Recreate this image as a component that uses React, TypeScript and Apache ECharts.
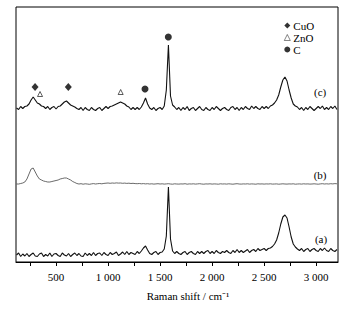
import React, { useEffect, useRef } from "react";
import * as echarts from "echarts";

// Raman shift sampling (cm^-1)
const WAVENUMBER = [
  120, 140, 160, 180, 200, 220, 240, 260, 280, 300,
  320, 340, 360, 380, 400, 420, 440, 460, 480, 500,
  520, 540, 560, 580, 600, 620, 640, 660, 680, 700,
  720, 740, 760, 780, 800, 820, 840, 860, 880, 900,
  920, 940, 960, 980, 1000, 1020, 1040, 1060, 1080, 1100,
  1120, 1140, 1160, 1180, 1200, 1220, 1240, 1260, 1280, 1300,
  1320, 1340, 1360, 1380, 1400, 1420, 1440, 1460, 1480, 1500,
  1520, 1540, 1560, 1580, 1600, 1620, 1640, 1660, 1680, 1700,
  1720, 1740, 1760, 1780, 1800, 1820, 1840, 1860, 1880, 1900,
  1920, 1940, 1960, 1980, 2000, 2020, 2040, 2060, 2080, 2100,
  2120, 2140, 2160, 2180, 2200, 2220, 2240, 2260, 2280, 2300,
  2320, 2340, 2360, 2380, 2400, 2420, 2440, 2460, 2480, 2500,
  2520, 2540, 2560, 2580, 2600, 2620, 2640, 2660, 2680, 2700,
  2720, 2740, 2760, 2780, 2800, 2820, 2840, 2860, 2880, 2900,
  2920, 2940, 2960, 2980, 3000, 3020, 3040, 3060, 3080, 3100,
  3120, 3140, 3160, 3180, 3200,
];

// Intensities (arbitrary units, vertically offset traces)
const SPECTRUM_A = [
  7, 9, 5.5, 8, 6, 8.5, 5.5, 7.5, 9, 6,
  5.5, 8, 9, 5.5, 7.5, 6, 9, 5.5, 8, 8.5,
  6.5, 5.5, 9, 7, 6, 8.5, 5.5, 7.5, 9, 6.5,
  8.5, 6, 5.5, 9, 6.5, 8.5, 6.5, 9.5, 6.5, 8.5,
  9, 6.5, 9.5, 7.5, 6.5, 9.5, 7.5, 8.5, 10, 6.5,
  8, 10, 7.5, 10.5, 7.5, 9.5, 8.5, 7.5, 10.5, 8.5,
  11, 14, 16, 12, 8.5, 7.5, 9.5, 10.5, 7.5, 9.5,
  10, 13, 26, 75, 23, 11, 8.5, 10.5, 8.5, 7.5,
  9.5, 10.5, 7.5, 9.5, 10.5, 8.5, 7.5, 10.5, 8.5, 10.5,
  8.5, 10.5, 11.5, 8.5, 10.5, 8.5, 11.5, 9.5, 8.5, 10.5,
  9.5, 11.5, 9.5, 8.5, 11.5, 9.5, 12.5, 9.5, 11.5, 9.5,
  11, 12.5, 9.5, 11.5, 12.5, 10.5, 13.5, 11.5, 12.5, 13.5,
  11.5, 13.5, 14, 15.5, 18, 22, 29, 38, 45, 47,
  44, 35, 25, 18, 15, 13, 11.5, 13.5, 10.5, 12.5,
  13.5, 10.5, 12.5, 13.5, 11.5, 10.5, 13.5, 11.5, 14, 11.5,
  10.5, 13.5, 11.5, 10.5, 12.5,
];

const SPECTRUM_B = [
  78, 78, 78.5, 79, 80, 83, 88, 93, 94, 90,
  86, 83, 82, 81, 80.5, 80, 80, 80.5, 81, 81.5,
  82, 83, 83.5, 84, 84, 83, 82, 80.5, 79.5, 78.5,
  78, 78.3, 77.8, 78.2, 78, 77.7, 78.1, 78.4, 78, 78.3,
  78.5, 78.2, 78.6, 78.8, 79, 78.7, 79, 78.8, 79.1, 78.9,
  79, 78.7, 78.9, 78.6, 78.8, 78.5, 78.7, 78.4, 78.3, 78.5,
  78.2, 78.4, 78.1, 78.3, 78, 78.2, 77.9, 78.1, 78.3, 78,
  78.2, 77.9, 78.1, 78.3, 78, 77.8, 78.2, 78, 77.9, 78.1,
  78, 78.3, 77.8, 78.1, 78, 78.2, 77.9, 78.1, 78.3, 78,
  77.8, 78.1, 78, 78.2, 77.9, 78.1, 78, 77.8, 78.2, 78,
  78.1, 77.9, 78.2, 78, 77.8, 78.1, 78.3, 78, 77.9, 78.1,
  78, 78.2, 77.9, 78.1, 78, 77.8, 78.2, 78, 78.1, 77.9,
  78.1, 78, 78.2, 77.9, 78, 78.1, 77.8, 78, 78.2, 78,
  77.9, 78.1, 78, 78.2, 77.8, 78, 78.1, 77.9, 78.2, 78,
  78.1, 77.9, 78, 78.2, 78, 77.8, 78.1, 78.3, 78, 78.2,
  78, 78.3, 78.1, 78.4, 78.2,
];

const SPECTRUM_C = [
  154, 152.5, 155.5, 153.5, 155.5, 156, 158, 162, 165, 162,
  159, 158, 156, 155.5, 153.5, 155.5, 152.5, 154.5, 155.5, 153,
  155.5, 156, 158, 160, 161, 159, 157, 156, 155, 153.5,
  152.5, 154.5, 151.5, 154.5, 152.5, 151.5, 154.5, 152.5, 151.5, 153.5,
  154.5, 151.5, 153.5, 155.5, 153.5, 155.5, 156, 157, 158, 159,
  160, 159, 158, 156, 155, 152.5, 154.5, 152.5, 154.5, 152.5,
  155, 159, 164, 158, 154, 152.5, 154.5, 151.5, 153.5, 154.5,
  152.5, 156, 172, 217, 166, 157, 155, 152.5, 154.5, 151.5,
  154.5, 152.5, 155.5, 151.5, 153.5, 154.5, 151.5, 153.5, 155.5, 152.5,
  151.5, 154.5, 152.5, 151.5, 154.5, 152.5, 155.5, 153.5, 151.5, 153.5,
  154.5, 152.5, 151.5, 154.5, 155.5, 152.5, 154.5, 151.5, 154.5, 152.5,
  155.5, 153.5, 152.5, 156, 153.5, 155.5, 153.5, 152.5, 155.5, 153.5,
  155.5, 153.5, 156, 157, 159, 162, 167, 175, 182, 185,
  181, 172, 164, 158, 156, 155, 152.5, 154.5, 151.5, 154.5,
  152.5, 155.5, 153.5, 151.5, 153.5, 155.5, 153.5, 156, 152.5, 154.5,
  152.5, 155.5, 153.5, 156, 152.5,
];

// Peak assignment markers [shift, height]
const CUO_MARKS = [[298, 175], [618, 175]];
const ZNO_MARKS = [[346, 168], [1121, 170]];
const C_MARKS = [[1355, 173], [1579, 225]];

// Trace labels [shift, height]
const TRACE_NAMES = ["(a)", "(b)", "(c)"];
const TRACE_LABEL_POS = [[3047, 23], [3038, 87], [3038, 170]];

const X_TICKS = [250, 500, 750, 1000, 1250, 1500, 1750, 2000, 2250, 2500, 2750, 3000];
const X_LABELS = [500, 1000, 1500, 2000, 2500, 3000];

const FONT = "'Liberation Serif', 'Times New Roman', serif";

function zip(xs: number[], ys: number[]) {
  return xs.map((x, i) => [x, ys[i]]);
}

function fmt(v: number) {
  if (v >= 1000) {
    return `${Math.floor(v / 1000)} ${String(v % 1000).padStart(3, "0")}`;
  }
  return String(v);
}

export default function App() {
  const ref = useRef<HTMLDivElement>(null);
  useEffect(() => {
    if (!ref.current) return;
    const chart = echarts.init(ref.current, null, { renderer: "svg" });
    const lineCommon = {
      type: "line",
      showSymbol: false,
      symbol: "none",
      silent: true,
    };
    const titleGraphic = {
      type: "text",
      x: 188,
      y: 296,
      style: {
        text: "Raman shift / cm\u207B\u00B9",
        fontFamily: FONT,
        fontSize: 11,
        fill: "#000",
        textAlign: "center",
        textVerticalAlign: "middle",
      },
    };
    chart.setOption({
      animation: false,
      backgroundColor: "#fff",
      grid: {
        left: 16,
        right: 15,
        top: 7,
        bottom: 50,
        show: true,
        borderColor: "#000",
        borderWidth: 1,
        backgroundColor: "transparent",
      },
      legend: {
        orient: "vertical",
        left: 279,
        top: 15,
        itemWidth: 6,
        itemHeight: 6,
        itemGap: 1,
        textStyle: {
          fontFamily: FONT,
          fontSize: 11,
          color: "#000",
          padding: [0, 0, 0, -2],
        },
        data: [
          "CuO",
          { name: "ZnO", itemStyle: { borderWidth: 0.6 } },
          "C",
        ],
      },
      xAxis: {
        type: "value",
        min: 115,
        max: 3210,
        splitLine: { show: false },
        axisLine: { show: true, lineStyle: { color: "#000", width: 1 } },
        axisTick: {
          show: true,
          inside: false,
          length: 4,
          customValues: X_TICKS,
          lineStyle: { color: "#000" },
        },
        axisLabel: {
          customValues: X_LABELS,
          formatter: (v: number) => fmt(v),
          fontFamily: FONT,
          fontSize: 11,
          color: "#000",
          margin: 9,
        },
      },
      yAxis: {
        type: "value",
        min: 0,
        max: 255,
        show: false,
      },
      graphic: [titleGraphic],
      series: [
        {
          ...lineCommon,
          name: "a",
          data: zip(WAVENUMBER, SPECTRUM_A),
          lineStyle: { color: "#111", width: 1.1 },
        },
        {
          ...lineCommon,
          name: "b",
          data: zip(WAVENUMBER, SPECTRUM_B),
          lineStyle: { color: "#444", width: 0.8 },
        },
        {
          ...lineCommon,
          name: "c",
          data: zip(WAVENUMBER, SPECTRUM_C),
          lineStyle: { color: "#111", width: 1.1 },
        },
        {
          type: "scatter",
          name: "CuO",
          symbol: "diamond",
          symbolSize: [7, 8],
          itemStyle: { color: "#000" },
          data: CUO_MARKS,
        },
        {
          type: "scatter",
          name: "ZnO",
          symbol: "triangle",
          symbolSize: 5,
          itemStyle: { color: "#fff", borderColor: "#000", borderWidth: 0.8 },
          data: ZNO_MARKS,
        },
        {
          type: "scatter",
          name: "C",
          symbol: "circle",
          symbolSize: 7,
          itemStyle: { color: "#000" },
          data: C_MARKS,
        },
      ],
    });
    // Trace labels placed at data coordinates through the chart's own scales
    const labelGraphics = TRACE_LABEL_POS.map((p, i) => {
      const px = chart.convertToPixel({ gridIndex: 0 }, p) as number[];
      return {
        type: "text",
        x: px[0],
        y: px[1],
        style: {
          text: TRACE_NAMES[i],
          fontFamily: FONT,
          fontSize: 11,
          fill: "#000",
          textAlign: "center",
          textVerticalAlign: "middle",
        },
      };
    });
    chart.setOption({ graphic: [titleGraphic, ...labelGraphics] }, { replaceMerge: ["graphic"] });
    return () => chart.dispose();
  }, []);
  return (
    <div
      ref={ref}
      style={{ position: "fixed", left: 0, top: 0, width: 353, height: 312 }}
    />
  );
}
